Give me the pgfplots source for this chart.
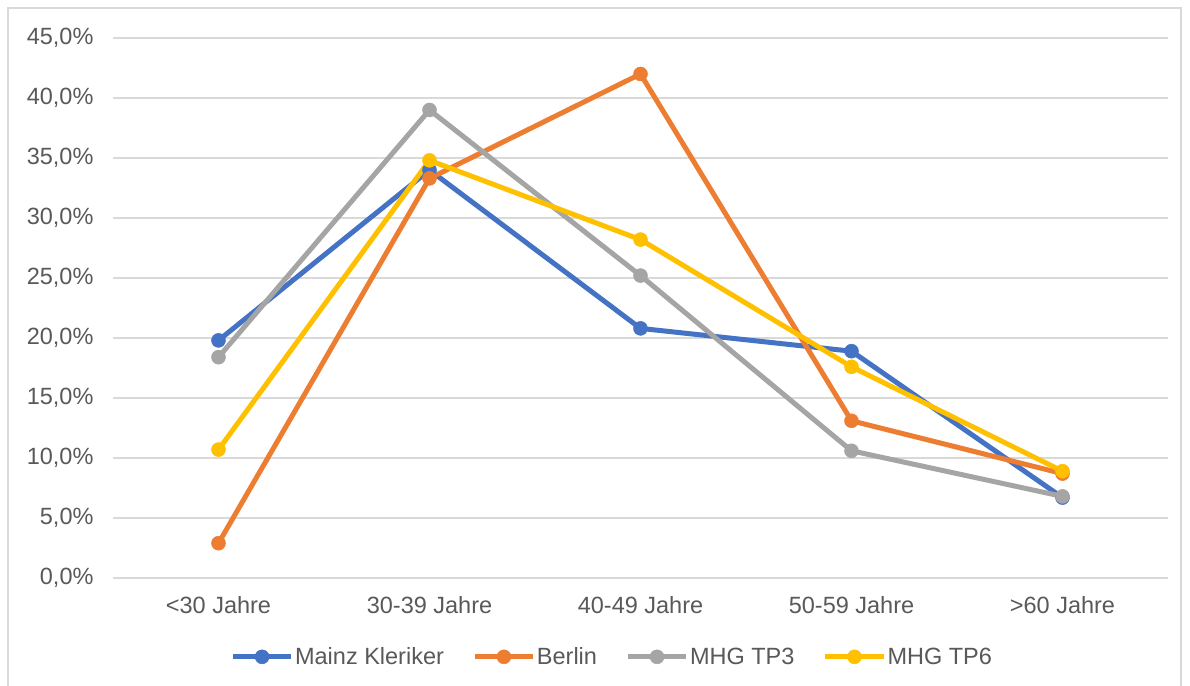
\documentclass[border=0pt]{standalone}
\usepackage{fontspec}
\setmainfont{Liberation Sans}
\usepackage{pgfplots}
\pgfplotsset{compat=1.18}
\definecolor{cblue}{HTML}{4472C4}
\definecolor{corange}{HTML}{ED7D31}
\definecolor{cgray}{HTML}{A5A5A5}
\definecolor{cyellow}{HTML}{FFC000}
\definecolor{gridc}{HTML}{D9D9D9}
\definecolor{txt}{HTML}{595959}
\begin{document}
\begin{tikzpicture}[x=1pt,y=1pt]
\useasboundingbox (0,0) rectangle (1190,685);
\draw[color=gridc, line width=1.2pt] (8,-10) rectangle (1181,677);
\begin{axis}[
  at={(113pt,107pt)}, anchor=south west,
  scale only axis, width=1055pt, height=540pt,
  xmin=-0.5, xmax=4.5, ymin=0, ymax=45,
  xtick={0,1,2,3,4},
  xticklabels={{<30 Jahre},{30-39 Jahre},{40-49 Jahre},{50-59 Jahre},{>60 Jahre}},
  ytick={0,5,...,45},
  /pgf/number format/assume math mode=true,
  yticklabel={\pgfmathprintnumber[fixed,fixed zerofill,precision=1,use comma,assume math mode=true]{\tick}\%},
  ymajorgrids,
  grid style={color=gridc, line width=1.2pt},
  separate axis lines,
  x axis line style={draw=gridc, line width=1.2pt},
  y axis line style={draw=none},
  axis x line*=bottom,
  axis y line*=left,
  major tick length=0pt,
  tick style={draw=none},
  ticklabel style={font=\fontsize{23.5}{28}\selectfont, text=txt},
  yticklabel style={xshift=-16pt},
  xticklabel style={yshift=-15pt},
  every axis plot/.append style={line width=5pt, mark=*, mark size=7pt, mark options={solid, line width=0.5pt}},
  legend columns=4,
  legend style={draw=none, at={(0.473,-0.146)}, anchor=center,
    font=\fontsize{23.5}{28}\selectfont, text=txt,
    nodes={inner sep=1.5pt},
    /tikz/every even column/.append style={column sep=27pt}},
  legend cell align=left,
  legend image code/.code={\draw[mark repeat=2,mark phase=2,#1] plot coordinates {(0pt,0pt) (29pt,0pt) (58pt,0pt)};},
]
\addplot[color=cblue] coordinates {(0,19.8) (1,34.0) (2,20.8) (3,18.9) (4,6.7)};
\addlegendentry{Mainz Kleriker}
\addplot[color=corange] coordinates {(0,2.9) (1,33.3) (2,42.0) (3,13.1) (4,8.7)};
\addlegendentry{Berlin}
\addplot[color=cgray] coordinates {(0,18.4) (1,39.0) (2,25.2) (3,10.6) (4,6.8)};
\addlegendentry{MHG TP3}
\addplot[color=cyellow] coordinates {(0,10.7) (1,34.8) (2,28.2) (3,17.6) (4,8.9)};
\addlegendentry{MHG TP6}
\end{axis}
\end{tikzpicture}
\end{document}
